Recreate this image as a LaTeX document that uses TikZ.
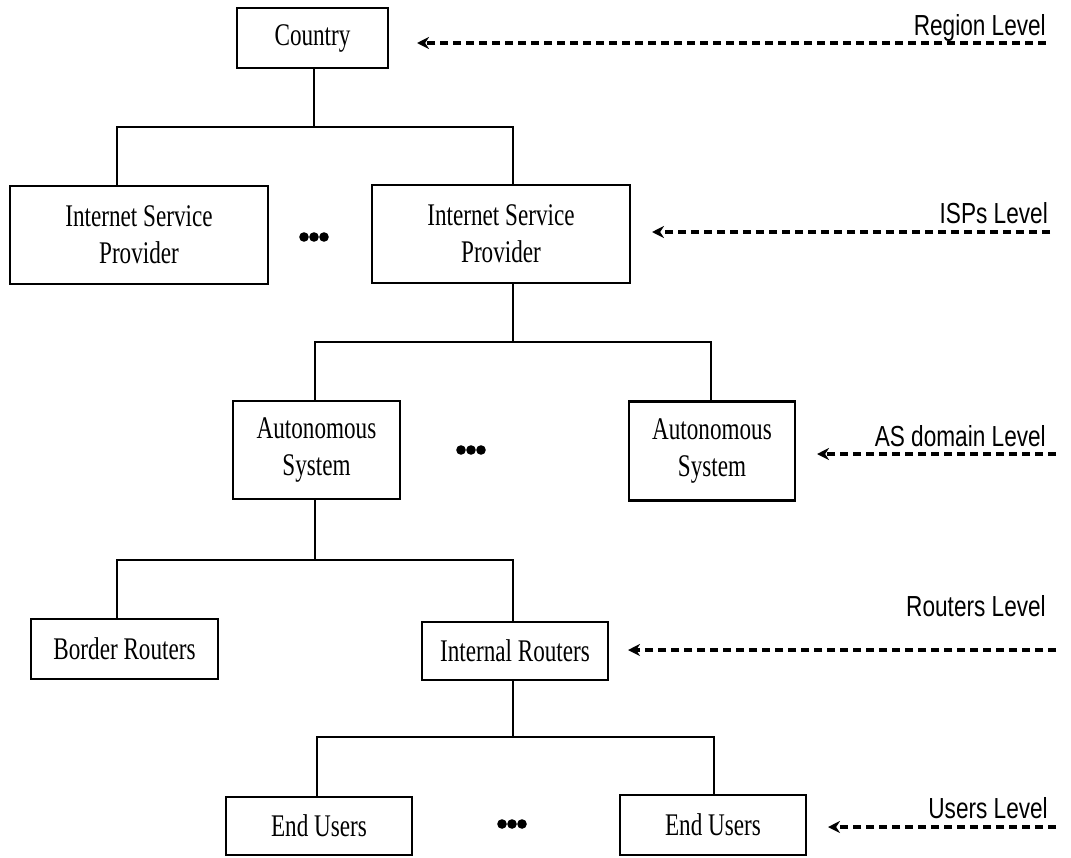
\documentclass[tikz,border=0pt]{standalone}
\usepackage{fontspec}
\setmainfont{Liberation Serif}
\newfontfamily\boxfont{Liberation Serif}[FakeStretch=0.735]
\newfontfamily\lvlfont{Liberation Sans}[FakeStretch=0.78]
\usetikzlibrary{arrows.meta}

\begin{document}
\begin{tikzpicture}[x=1pt,y=-1pt,
  box/.style={draw, line width=2.2pt, inner sep=0pt, align=center,
    font=\boxfont\fontsize{31.5}{37}\selectfont},
  link/.style={line width=2.2pt},
  lvl/.style={line width=3.4pt, dash pattern=on 8pt off 5pt,
    -{Stealth[length=12pt,width=12pt]}},
  lvltext/.style={font=\lvlfont\fontsize{29}{32}\selectfont, inner sep=0pt, anchor=base east},
  dotfill/.style={fill=black}
]
\useasboundingbox (0,0) rectangle (1071,857);

% --- hierarchy boxes ---
\node[box, minimum width=151pt, minimum height=60pt] (country) at (312.5,38) {Country};

\node[box, minimum width=258pt, minimum height=98pt] (ispL) at (139,235) {Internet Service\\Provider};
\node[box, minimum width=258pt, minimum height=98pt] (ispR) at (501,234) {Internet Service\\Provider};

\node[box, minimum width=167pt, minimum height=98pt] (asL) at (316.5,450) {Autonomous\\System};
\node[box, minimum width=166pt, minimum height=99pt] (asR) at (712,451) {Autonomous\\System};

\node[box, minimum width=187pt, minimum height=60pt] (border) at (124.5,649) {Border Routers};
\node[box, minimum width=186pt, minimum height=58pt] (internal) at (515,651) {Internal Routers};

\node[box, minimum width=186pt, minimum height=58pt] (euL) at (319,826) {End Users};
\node[box, minimum width=186pt, minimum height=60pt] (euR) at (713,825) {End Users};

% --- ellipsis dots between siblings ---
\foreach \dx in {-10,0,10} {
  \fill[dotfill] (314+\dx,237) circle (4.8pt);
  \fill[dotfill] (471+\dx,450) circle (4.8pt);
  \fill[dotfill] (512+\dx,824) circle (4.8pt);
}

% --- tree connectors ---
\coordinate (b1M) at (314,127); \coordinate (b1L) at (117,127); \coordinate (b1R) at (513,127);
\draw[link] (country.south -| b1M) -- (b1M);
\draw[link] (ispL.north -| b1L) -- (b1L) -- (b1R) -- (ispR.north -| b1R);

\coordinate (b2M) at (513,342); \coordinate (b2L) at (315,342); \coordinate (b2R) at (711,342);
\draw[link] (ispR.south -| b2M) -- (b2M);
\draw[link] (asL.north -| b2L) -- (b2L) -- (b2R) -- (asR.north -| b2R);

\coordinate (b3M) at (315,560); \coordinate (b3L) at (117,560); \coordinate (b3R) at (513,560);
\draw[link] (asL.south -| b3M) -- (b3M);
\draw[link] (border.north -| b3L) -- (b3L) -- (b3R) -- (internal.north -| b3R);

\coordinate (b4M) at (513,737); \coordinate (b4L) at (317,737); \coordinate (b4R) at (714,737);
\draw[link] (internal.south -| b4M) -- (b4M);
\draw[link] (euL.north -| b4L) -- (b4L) -- (b4R) -- (euR.north -| b4R);

% --- level labels and pointers ---
\node[lvltext] (regionLbl) at (1046,35) {Region Level};
\coordinate (regionTail) at (1046,43); \coordinate (regionTip) at (417,43);
\draw[lvl] (regionTail) -- (regionTip);

\node[lvltext] (ispLbl) at (1048,223) {ISPs Level};
\coordinate (ispTail) at (1050,232); \coordinate (ispTip) at (652,232);
\draw[lvl] (ispTail) -- (ispTip);

\node[lvltext] (asLbl) at (1046,446) {AS domain Level};
\coordinate (asTail) at (1056,454); \coordinate (asTip) at (817,454);
\draw[lvl] (asTail) -- (asTip);

\node[lvltext] (rtLbl) at (1046,616) {Routers Level};
\coordinate (rtTail) at (1056,650); \coordinate (rtTip) at (628,650);
\draw[lvl] (rtTail) -- (rtTip);

\node[lvltext] (usLbl) at (1048,818) {Users Level};
\coordinate (usTail) at (1056,827); \coordinate (usTip) at (828,827);
\draw[lvl] (usTail) -- (usTip);
\end{tikzpicture}
\end{document}
